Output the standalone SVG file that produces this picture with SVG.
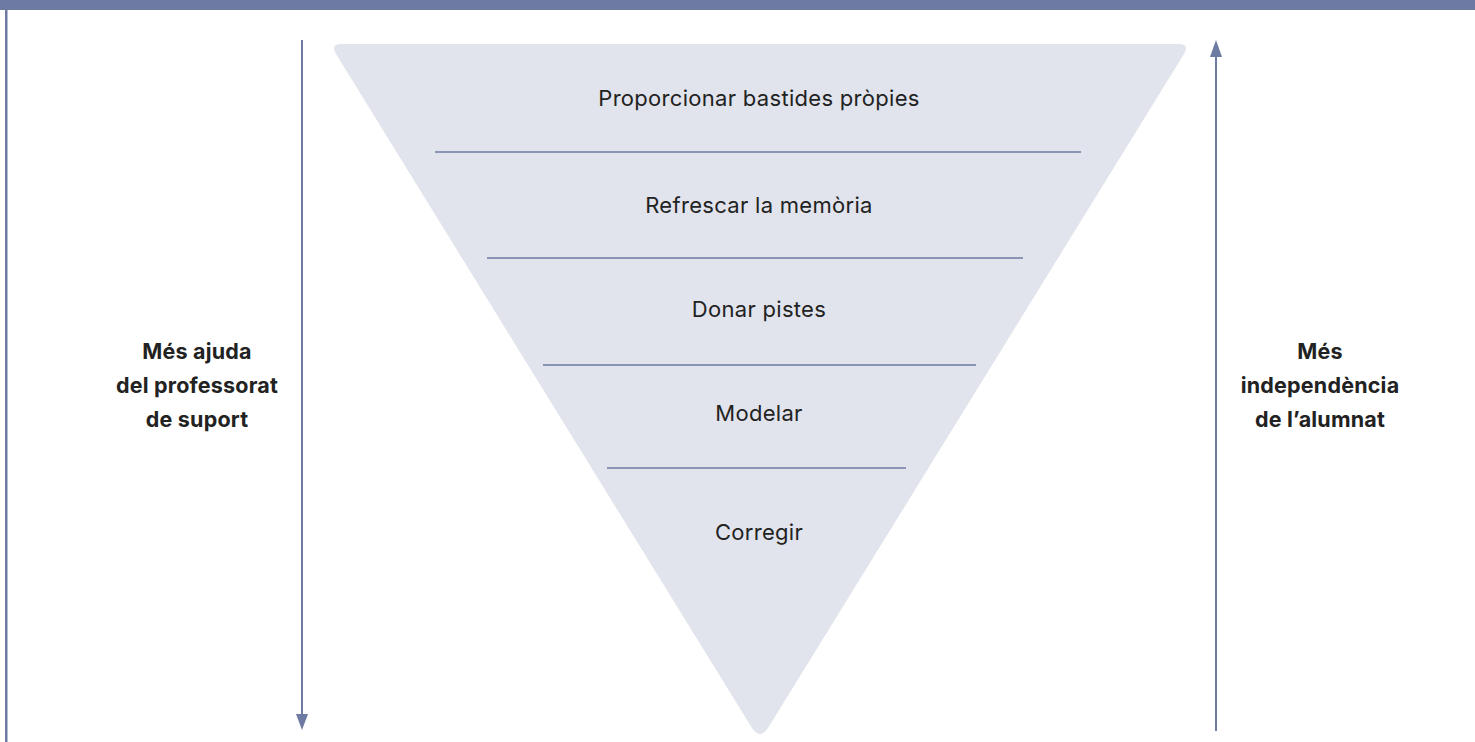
<svg xmlns="http://www.w3.org/2000/svg" width="1475" height="742" viewBox="0 0 1475 742">
  <style>
    .item { font-family: Inter, "Open Sans", sans-serif; font-size: 22px; letter-spacing: 0.3px; fill: #222222; text-anchor: middle; }
    .side { font-family: Inter, "Open Sans", sans-serif; font-size: 21.5px; font-weight: bold; letter-spacing: 0.2px; fill: #222222; text-anchor: middle; }
    .rule { stroke: #6d7aa2; stroke-width: 1.3; }
    .axis { stroke: #6d7aa2; stroke-width: 2; fill: none; }
    .head { fill: #6d7aa2; }
  </style>

  <rect width="1475" height="742" fill="#ffffff"/>
  <!-- header band and left frame edge -->
  <rect x="0" y="0" width="1475" height="10" fill="#6d7aa2"/>
  <rect x="5" y="10" width="2.5" height="732" fill="#6d7aa2"/>

  <!-- inverted funnel -->
  <g id="funnel">
    <path d="M342,44 L1178,44 Q1190,44 1184,54 L768,728 Q760,740 752,728 L336,54 Q330,44 342,44 Z" fill="#e1e4ec"/>
  </g>

  <g id="dividers">
    <line class="rule" x1="435" y1="152" x2="1081" y2="152"/>
    <line class="rule" x1="487" y1="258" x2="1023" y2="258"/>
    <line class="rule" x1="543" y1="365" x2="976" y2="365"/>
    <line class="rule" x1="607" y1="468" x2="906" y2="468"/>
  </g>

  <g id="level-1"><text class="item" x="759" y="106">Proporcionar bastides pròpies</text></g>
  <g id="level-2"><text class="item" x="759" y="213">Refrescar la memòria</text></g>
  <g id="level-3"><text class="item" x="759" y="317">Donar pistes</text></g>
  <g id="level-4"><text class="item" x="759" y="421">Modelar</text></g>
  <g id="level-5"><text class="item" x="759" y="540">Corregir</text></g>

  <g id="connectors">
    <line x1="302" y1="40" x2="302" y2="714" class="axis"/>
    <path class="head" d="M296,714 L308,714 L302,730 Z"/>
    <line x1="1216" y1="731" x2="1216" y2="56" class="axis"/>
    <path class="head" d="M1210,57 L1222,57 L1216,40 Z"/>
  </g>

  <g id="label-left">
    <text class="side" x="197" y="359">Més ajuda</text>
    <text class="side" x="197" y="393">del professorat</text>
    <text class="side" x="197" y="427">de suport</text>
  </g>
  <g id="label-right">
    <text class="side" x="1320" y="359">Més</text>
    <text class="side" x="1320" y="393">independència</text>
    <text class="side" x="1320" y="427">de l’alumnat</text>
  </g>
</svg>
